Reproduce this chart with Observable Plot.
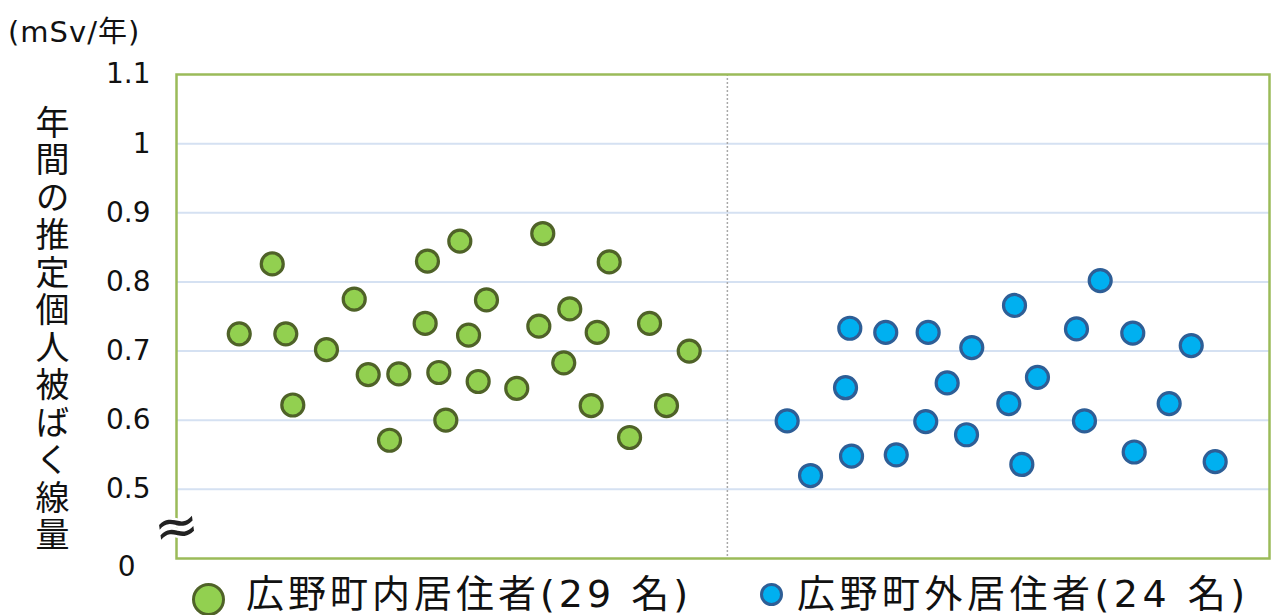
<!DOCTYPE html>
<html>
<head>
<meta charset="utf-8">
<script src="https://cdn.jsdelivr.net/npm/d3@7"></script>
<script src="https://cdn.jsdelivr.net/npm/@observablehq/plot@0.6"></script>
<style>
  html, body { margin: 0; padding: 0; background: #fff; }
  #wrap { position: relative; width: 1272px; height: 615px; overflow: hidden; font-family: "DejaVu Sans", "Noto Sans CJK JP", sans-serif; color: #111; }
  #unit { position: absolute; left: 8px; top: 12px; font-size: 29px; line-height: 40px; letter-spacing: 1px; white-space: nowrap; }
  #ytitle { position: absolute; left: 35px; top: 105px; font-family: "Noto Sans CJK JP", sans-serif; font-size: 34px; line-height: 34px; writing-mode: vertical-rl; text-orientation: upright; letter-spacing: 3.5px; white-space: nowrap; }
  #chart { position: absolute; left: 0; top: 50px; }
  .leg { position: absolute; top: 574px; height: 41px; line-height: 41px; font-size: 38px; white-space: nowrap; }
  .sw { position: absolute; border-radius: 50%; box-sizing: border-box; }
</style>
</head>
<body>
<div id="wrap">
  <div id="unit"></div>
  <div id="ytitle"></div>
  <div id="chart"></div>
  <div class="sw" id="sw1"></div>
  <div class="leg" id="leg1"></div>
  <div class="sw" id="sw2"></div>
  <div class="leg" id="leg2"></div>
</div>
<script>
// ---- data ----
const unitLabel = "(mSv/年)";
const yTitle = "年間の推定個人被ばく線量";
const seriesNames = ["広野町内居住者(29 名)", "広野町外居住者(24 名)"];

// horizontal positions (arbitrary spread, 0..100) and annual doses (mSv/year)
const insideX = [5.74, 8.76, 10.0, 10.64, 13.72, 16.26, 17.54, 19.49, 20.34, 22.75, 22.96, 24.0, 24.64, 25.92, 26.72, 27.6, 28.36, 31.13, 33.15, 33.51, 35.43, 35.98, 37.94, 38.49, 39.59, 41.45, 43.28, 44.83, 46.91];
const insideY = [0.725, 0.826, 0.725, 0.622, 0.702, 0.775, 0.666, 0.571, 0.667, 0.740, 0.830, 0.669, 0.600, 0.859, 0.723, 0.656, 0.774, 0.646, 0.736, 0.870, 0.683, 0.761, 0.621, 0.727, 0.829, 0.575, 0.740, 0.621, 0.700];

const outsideX = [55.87, 58.01, 61.6, 61.21, 61.76, 64.89, 65.85, 68.77, 68.55, 70.51, 72.76, 72.28, 76.67, 76.15, 77.34, 78.77, 82.34, 83.07, 84.51, 87.49, 87.62, 90.82, 92.84, 95.03];
const outsideY = [0.599, 0.520, 0.733, 0.647, 0.548, 0.727, 0.550, 0.727, 0.598, 0.654, 0.705, 0.579, 0.766, 0.624, 0.536, 0.662, 0.732, 0.599, 0.802, 0.726, 0.554, 0.624, 0.708, 0.540];

const yTicks = [0.5, 0.6, 0.7, 0.8, 0.9, 1.0, 1.1];
const zeroTick = [0.4];      // axis break: bottom of the axis is labelled 0
const gridValues = [0.5, 0.6, 0.7, 0.8, 0.9, 1.0];
const dividerX = [50.4];
const breakAt = [0.445];

const inside = insideX.map((x, i) => ({x, y: insideY[i]}));
const outside = outsideX.map((x, i) => ({x, y: outsideY[i]}));

const fmt = d => String(+d.toFixed(1));

const chart = Plot.plot({
  width: 1272,
  height: 535,
  marginLeft: 176,
  marginRight: 3,
  marginTop: 24,
  marginBottom: 27,
  style: {fontFamily: '"DejaVu Sans", "Noto Sans CJK JP", sans-serif', fontSize: "28px", color: "#111", background: "transparent"},
  x: {domain: [0, 100], axis: null},
  y: {domain: [0.4, 1.1], axis: null},
  marks: [
    Plot.ruleY(gridValues, {stroke: "#d5e1f2", strokeWidth: 2}),
    Plot.ruleX(dividerX, {stroke: "#a8a8a8", strokeWidth: 1.5, strokeDasharray: "2,2"}),
    Plot.frame({stroke: "#9bbb59", strokeWidth: 2.5}),
    Plot.axisY(yTicks, {tickFormat: fmt, tickSize: 0, tickPadding: 26, fontSize: 28, fill: "#111", label: null}),
    Plot.axisY(zeroTick, {tickFormat: () => "0", tickSize: 0, tickPadding: 41, dy: 9, fontSize: 28, fill: "#111", label: null}),
    Plot.text(breakAt, {y: d => d, frameAnchor: "left", text: () => "≈", fontSize: 54, fill: "#222", stroke: "white", strokeWidth: 5, textAnchor: "middle", rotate: -8}),
    Plot.dot(inside, {x: "x", y: "y", r: 11, fill: "#92d050", stroke: "#4f6228", strokeWidth: 3.2}),
    Plot.dot(outside, {x: "x", y: "y", r: 11, fill: "#00b0f0", stroke: "#2e5e96", strokeWidth: 3.2})
  ]
});
document.getElementById("chart").appendChild(chart);

document.getElementById("unit").textContent = unitLabel;
document.getElementById("ytitle").textContent = yTitle;

const sw1 = document.getElementById("sw1");
Object.assign(sw1.style, {left: "192px", top: "583px", width: "33px", height: "33px", background: "#92d050", border: "3.5px solid #4f6228"});
const sw2 = document.getElementById("sw2");
Object.assign(sw2.style, {left: "760px", top: "583px", width: "23px", height: "23px", background: "#00b0f0", border: "3px solid #2e5e96"});
const leg1 = document.getElementById("leg1");
Object.assign(leg1.style, {left: "246px", letterSpacing: "4px"});
leg1.textContent = seriesNames[0];
const leg2 = document.getElementById("leg2");
Object.assign(leg2.style, {left: "797px", letterSpacing: "4.5px"});
leg2.textContent = seriesNames[1];
</script>
</body>
</html>
